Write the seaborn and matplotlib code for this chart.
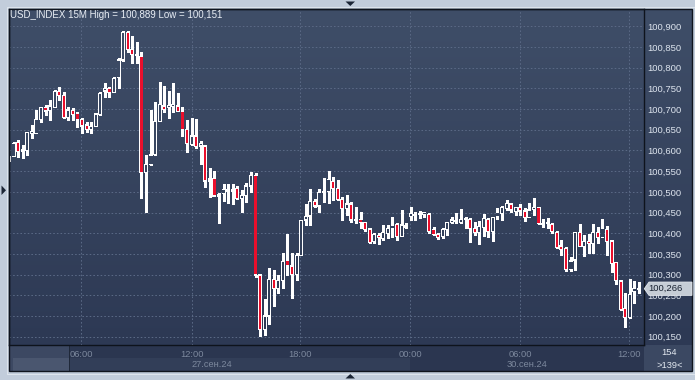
import numpy as np
import matplotlib
matplotlib.use("Agg")
import matplotlib.pyplot as plt
import seaborn as sns
from matplotlib.patches import Rectangle, Polygon
from matplotlib.colors import LinearSegmentedColormap, to_rgb
import matplotlib.transforms as mtrans

# ---------------- data (USD_INDEX 15M candles) -------------
open_ = [100.5729, 100.5850, 100.6196, 100.5987, 100.6003, 100.6406, 100.6406, 100.6752, 100.7042, 100.6969,
         100.7034, 100.7420, 100.7332, 100.6800, 100.6969, 100.6897, 100.6752, 100.6615, 100.6510, 100.6575,
         100.6873, 100.7437, 100.7501, 100.7404, 100.7759, 100.8185, 100.8854, 100.8443, 100.8290, 100.8274,
         100.5472, 100.5665, 100.5906, 100.6696, 100.7074, 100.7034, 100.7058, 100.7074, 100.6937, 100.6510,
         100.6148, 100.6349, 100.6108, 100.6108, 100.5262, 100.5327, 100.4900, 100.4965, 100.5061, 100.5021,
         100.5085, 100.4844, 100.4908, 100.5142, 100.5400, 100.2992, 100.1679, 100.2001, 100.2887, 100.2670,
         100.2855, 100.3338, 100.3209, 100.3008, 100.3459, 100.4320, 100.4417, 100.4763, 100.4659, 100.4981,
         100.5005, 100.5247, 100.5085, 100.4820, 100.4602, 100.4707, 100.4337, 100.4337, 100.4264, 100.4103,
         100.3797, 100.3942, 100.3878, 100.3998, 100.4103, 100.4216, 100.3918, 100.4184, 100.4401, 100.4425,
         100.4457, 100.4457, 100.4457, 100.4095, 100.3974, 100.3918, 100.4095, 100.4264, 100.4280, 100.4264,
         100.4330, 100.4336, 100.4119, 100.4022, 100.4143, 100.4336, 100.4038, 100.4401, 100.4481, 100.4602,
         100.4707, 100.4522, 100.4626, 100.4538, 100.4385, 100.4578, 100.4626, 100.4216, 100.4228, 100.4216,
         100.4022, 100.3692, 100.3636, 100.3128, 100.3354, 100.4022, 100.3676, 100.3797, 100.3757, 100.4022,
         100.3893, 100.4095, 100.3813, 100.3289, 100.2847, 100.2186, 100.1969, 100.2589, 100.2645]
high = [100.5870, 100.6212, 100.6253, 100.6132, 100.6454, 100.6615, 100.6977, 100.7058, 100.7098, 100.7219,
        100.7461, 100.7525, 100.7420, 100.7058, 100.7018, 100.6937, 100.6776, 100.6696, 100.6696, 100.6897,
        100.7420, 100.7622, 100.7541, 100.7783, 100.8226, 100.8890, 100.8886, 100.8773, 100.8612, 100.8387,
        100.5890, 100.6977, 100.7163, 100.7662, 100.7557, 100.7437, 100.7622, 100.7380, 100.7050, 100.6736,
        100.6792, 100.6760, 100.6229, 100.6132, 100.5568, 100.5504, 100.4965, 100.5190, 100.5190, 100.5190,
        100.5142, 100.5045, 100.5222, 100.5488, 100.5448, 100.2992, 100.2404, 100.3153, 100.3113, 100.2992,
        100.3515, 100.3982, 100.3515, 100.3515, 100.4320, 100.4699, 100.5061, 100.4820, 100.5061, 100.5327,
        100.5504, 100.5367, 100.5287, 100.4884, 100.4924, 100.4763, 100.4643, 100.4522, 100.4280, 100.4119,
        100.3998, 100.3998, 100.4200, 100.4200, 100.4401, 100.4256, 100.4562, 100.4240, 100.4643, 100.4522,
        100.4538, 100.4522, 100.4482, 100.4159, 100.4014, 100.4119, 100.4280, 100.4401, 100.4481, 100.4578,
        100.4385, 100.4360, 100.4264, 100.4304, 100.4457, 100.4360, 100.4401, 100.4602, 100.4658, 100.4803,
        100.4723, 100.4642, 100.4707, 100.4602, 100.4723, 100.4844, 100.4642, 100.4336, 100.4360, 100.4240,
        100.4063, 100.3837, 100.3676, 100.3434, 100.4038, 100.4224, 100.3958, 100.3982, 100.4224, 100.4159,
        100.4344, 100.4175, 100.3821, 100.3298, 100.2855, 100.2565, 100.2887, 100.2855, 100.2830]
low = [100.5710, 100.5834, 100.5850, 100.5826, 100.5890, 100.6293, 100.6406, 100.6696, 100.6857, 100.6736,
       100.7018, 100.7219, 100.6776, 100.6736, 100.6736, 100.6575, 100.6414, 100.6454, 100.6414, 100.6567,
       100.6857, 100.7300, 100.7300, 100.7404, 100.7501, 100.8161, 100.8387, 100.8121, 100.8121, 100.4843,
       100.4521, 100.5649, 100.5890, 100.6696, 100.6937, 100.6792, 100.6921, 100.6921, 100.6357, 100.5955,
       100.6132, 100.6067, 100.5665, 100.5125, 100.4884, 100.4900, 100.4240, 100.4788, 100.4723, 100.4699,
       100.4820, 100.4522, 100.4747, 100.5005, 100.2951, 100.1510, 100.1530, 100.1808, 100.2251, 100.2565,
       100.2670, 100.2992, 100.2428, 100.2871, 100.3451, 100.4200, 100.4200, 100.4626, 100.4522, 100.4763,
       100.4739, 100.4804, 100.4804, 100.4320, 100.4441, 100.4280, 100.4240, 100.4119, 100.4063, 100.3773,
       100.3773, 100.3741, 100.3837, 100.3878, 100.3918, 100.3837, 100.3902, 100.4119, 100.4320, 100.4320,
       100.4361, 100.4385, 100.4014, 100.3958, 100.3861, 100.3877, 100.3958, 100.4240, 100.4240, 100.4256,
       100.4119, 100.3797, 100.3958, 100.3732, 100.3942, 100.3918, 100.3821, 100.4336, 100.4320, 100.4562,
       100.4522, 100.4441, 100.4441, 100.4304, 100.4385, 100.4441, 100.4216, 100.4159, 100.4119, 100.4014,
       100.3636, 100.3475, 100.3088, 100.3096, 100.3112, 100.3660, 100.3459, 100.3515, 100.3515, 100.3757,
       100.3877, 100.3475, 100.3072, 100.2766, 100.2146, 100.1727, 100.1945, 100.2307, 100.2549]
close = [100.5850, 100.6172, 100.5971, 100.6011, 100.6438, 100.6454, 100.6752, 100.7042, 100.6953, 100.7074,
         100.7420, 100.7324, 100.6800, 100.6977, 100.6873, 100.6752, 100.6591, 100.6510, 100.6575, 100.6881,
         100.7380, 100.7501, 100.7404, 100.7743, 100.8185, 100.8854, 100.8443, 100.8322, 100.8300, 100.5472,
         100.5665, 100.5890, 100.6696, 100.7114, 100.6994, 100.7090, 100.7114, 100.6937, 100.6494, 100.6172,
         100.6349, 100.6092, 100.6172, 100.5262, 100.5311, 100.4900, 100.4941, 100.5061, 100.5021, 100.5061,
         100.4844, 100.4908, 100.5142, 100.5400, 100.2992, 100.1679, 100.2001, 100.2887, 100.2670, 100.2855,
         100.3314, 100.3209, 100.3008, 100.3459, 100.4304, 100.4401, 100.4763, 100.4659, 100.4989, 100.5005,
         100.5303, 100.5085, 100.4820, 100.4602, 100.4707, 100.4320, 100.4304, 100.4264, 100.4095, 100.3781,
         100.3974, 100.3894, 100.4023, 100.4119, 100.4200, 100.3918, 100.4200, 100.4151, 100.4482, 100.4457,
         100.4482, 100.4506, 100.4039, 100.3974, 100.3893, 100.4095, 100.4264, 100.4320, 100.4296, 100.4336,
         100.4340, 100.4119, 100.4022, 100.4159, 100.4360, 100.4038, 100.4385, 100.4497, 100.4626, 100.4723,
         100.4562, 100.4626, 100.4538, 100.4385, 100.4562, 100.4626, 100.4240, 100.4240, 100.4236, 100.4038,
         100.3660, 100.3612, 100.3128, 100.3330, 100.4022, 100.3676, 100.3797, 100.3757, 100.4014, 100.3901,
         100.4119, 100.3797, 100.3273, 100.2855, 100.2162, 100.1969, 100.2524, 100.2669, 100.2660]

y_ticks = [100.15, 100.20, 100.25, 100.30, 100.35, 100.40, 100.45, 100.50, 100.55, 100.60,
           100.65, 100.70, 100.75, 100.80, 100.85, 100.90]
time_labels = ["06:00", "12:00", "18:00", "00:00", "06:00", "12:00"]
time_pos = [15.8, 40.0, 63.8, 87.9, 112.0, 135.9]
date_labels = ["27.сен.24", "30.сен.24"]
date_pos = [44.5, 113.5]
title = "USD_INDEX 15M High = 100,889 Low = 100,151"
last_price = 100.266
total_bars, visible_bars = "154", ">139<"

# ---------------- style ----------------
sns.set_theme(style="dark")
plt.rcParams['font.family'] = ['Liberation Sans', 'DejaVu Sans']

W, H = 695, 380
FRAME = '#c2cddb'
fig = plt.figure(figsize=(W / 100, H / 100), dpi=100, facecolor=FRAME)


def fx(x):
    return x / W


def fy(y):
    return 1 - y / H


L, R, T, B = 8.7, 643.7, 8.7, 345.3
PR = 692.0      # right edge of price panel
BB = 371.0      # bottom of time panel
YMIN, YMAX = 100.1293, 100.9425
XMIN, XMAX = -0.07, 139.03

top_col, bot_col = '#3f4e68', '#2d3954'
grad_cmap = LinearSegmentedColormap.from_list('bg', [bot_col, top_col])


def frect(x0, y0, x1, y1, color, z=-1, **kw):
    r = Rectangle((fx(x0), fy(y1)), fx(x1) - fx(x0), fy(y0) - fy(y1),
                  transform=fig.transFigure, facecolor=color, edgecolor='none', zorder=z, **kw)
    fig.add_artist(r)
    return r


# background axes for gradient (plot + price panel)
bg_ax = fig.add_axes([fx(L), fy(B), fx(PR) - fx(L), fy(T) - fy(B)], zorder=-2)
grad = np.linspace(0, 1, 256).reshape(-1, 1)
bg_ax.imshow(grad, aspect='auto', cmap=grad_cmap, origin='lower', extent=[0, 1, 0, 1])
bg_ax.set_axis_off()

# bottom time panel
frect(L, B, R, BB, '#2b3650', z=-1)
frect(69, 358, 410, BB, '#323e58', z=-1)
frect(L, B, 69, BB, '#3c4862', z=-1)
frect(12.7, 358, 69, BB, '#4a566f', z=-1)
frect(68.7, B, 69.7, BB, '#1f2839', z=-1)
# bottom right box
frect(R, B, PR, BB, '#3b4862', z=-1)

# main axes
ax = fig.add_axes([fx(L), fy(B), fx(R) - fx(L), fy(T) - fy(B)])
ax.set_facecolor('none')

o = np.array(open_)
c = np.array(close)
hi = np.array(high)
lo = np.array(low)
idx = np.arange(len(o))
up = c >= o
body_lo = np.minimum(o, c)
body_hi = np.maximum(o, c)

PX = (YMAX - YMIN) / (B - T)          # data units per pixel (vertical)
RED = '#ea0f2c'

# wicks
ax.vlines(idx, body_hi, hi, color='white', lw=0.75, zorder=3, antialiased=False)
ax.vlines(idx, lo, body_lo, color='white', lw=0.75, zorder=3, antialiased=False)

# body outline (white) and inner fill
out_lo = body_lo - 0.6 * PX
out_h = np.maximum(body_hi - body_lo, 0.8 * PX) + 1.2 * PX
ax.bar(idx, out_h, bottom=out_lo, width=0.86, color='white', linewidth=0, zorder=4)

in_lo = body_lo + 0.6 * PX
in_h = body_hi - body_lo - 1.2 * PX
has_in = in_h > 0.4 * PX
frac = ((body_lo + body_hi) / 2 - YMIN) / (YMAX - YMIN)
bot_rgb, top_rgb = np.array(to_rgb(bot_col)), np.array(to_rgb(top_col))
hollow_cols = [tuple(bot_rgb + f * (top_rgb - bot_rgb)) for f in frac]
inner_cols = [RED if not u else hc for u, hc in zip(up, hollow_cols)]
ax.bar(idx[has_in], in_h[has_in], bottom=in_lo[has_in], width=0.48,
       color=[inner_cols[i] for i in idx[has_in]], linewidth=0, zorder=5)

ax.set_xlim(XMIN, XMAX)
ax.set_ylim(YMIN, YMAX)

ax.set_yticks(y_ticks)
ax.set_yticklabels([f"{v:.3f}".replace('.', ',') for v in y_ticks])
ax.yaxis.tick_right()
ax.tick_params(axis='y', length=0, pad=2.5, labelsize=6.8, labelcolor='#dde4ee')
ax.set_xticks(time_pos)
ax.set_xticklabels(time_labels)
ax.tick_params(axis='x', length=0, pad=3.2, labelsize=6.7, labelcolor='#7c889d')
ax.grid(True, color='#5a6985', linestyle=(0, (1.5, 2)), linewidth=0.75, zorder=1)
ax.set_axisbelow(True)
for s in ax.spines.values():
    s.set_color('#0e131c')
    s.set_linewidth(1.0)
    s.set_visible(True)

trans = mtrans.blended_transform_factory(ax.transData, fig.transFigure)
for lab, p in zip(date_labels, date_pos):
    ax.text(p, fy(364.3), lab, transform=trans, ha='center', va='center',
            fontsize=6.7, color='#7c889d', clip_on=False)

# title
fig.text(fx(10), fy(14.8), title, ha='left', va='center', fontsize=7.0, color='#e8edf4')

# bars counter box
fig.text(fx(669.3), fy(352.5), total_bars, ha='center', va='center', fontsize=6.7, color='#e3e9f1')
fig.text(fx(669.3), fy(366), visible_bars, ha='center', va='center', fontsize=6.7, color='#e3e9f1')
frect(660, 358.6, 679, 359.4, '#8390a5', z=2)

# last price label
ytr = mtrans.blended_transform_factory(fig.transFigure, ax.transData)
pts = [(fx(644.3), last_price), (fx(649), last_price + 0.0161), (fx(PR), last_price + 0.0161),
       (fx(PR), last_price - 0.0161), (fx(649), last_price - 0.0161)]
fig.add_artist(Polygon(pts, closed=True, transform=ytr, facecolor='#c6cdd6',
                       edgecolor='#e4e8ee', linewidth=0.6, zorder=5))
fig.text(fx(648.3), last_price, "100,266", transform=ytr, ha='left', va='center', fontsize=6.8,
         color='#172030', zorder=6)

# outer frame lines
fig.add_artist(Rectangle((fx(L), fy(BB)), fx(PR) - fx(L), fy(T) - fy(BB), transform=fig.transFigure,
                         facecolor='none', edgecolor='#0f141d', linewidth=1.0, zorder=3))
fig.add_artist(Rectangle((fx(6.5), fy(BB + 2.5)), fx(PR + 2.5) - fx(6.5), fy(6.5) - fy(BB + 2.5),
                         transform=fig.transFigure, facecolor='none', edgecolor='#e3e9f0',
                         linewidth=0.6, zorder=-3))

# navigation triangles
tri_col = '#1b2535'
fig.add_artist(Polygon([(fx(345.5), fy(1.5)), (fx(355), fy(1.5)), (fx(350.3), fy(6))],
                       transform=fig.transFigure, facecolor=tri_col, edgecolor='none'))
fig.add_artist(Polygon([(fx(345.5), fy(378.5)), (fx(355), fy(378.5)), (fx(350.3), fy(374))],
                       transform=fig.transFigure, facecolor=tri_col, edgecolor='none'))
fig.add_artist(Polygon([(fx(1.5), fy(185.5)), (fx(1.5), fy(195)), (fx(6), fy(190.3))],
                       transform=fig.transFigure, facecolor=tri_col, edgecolor='none'))

fig.savefig('out.png', dpi=100, facecolor=FRAME)
